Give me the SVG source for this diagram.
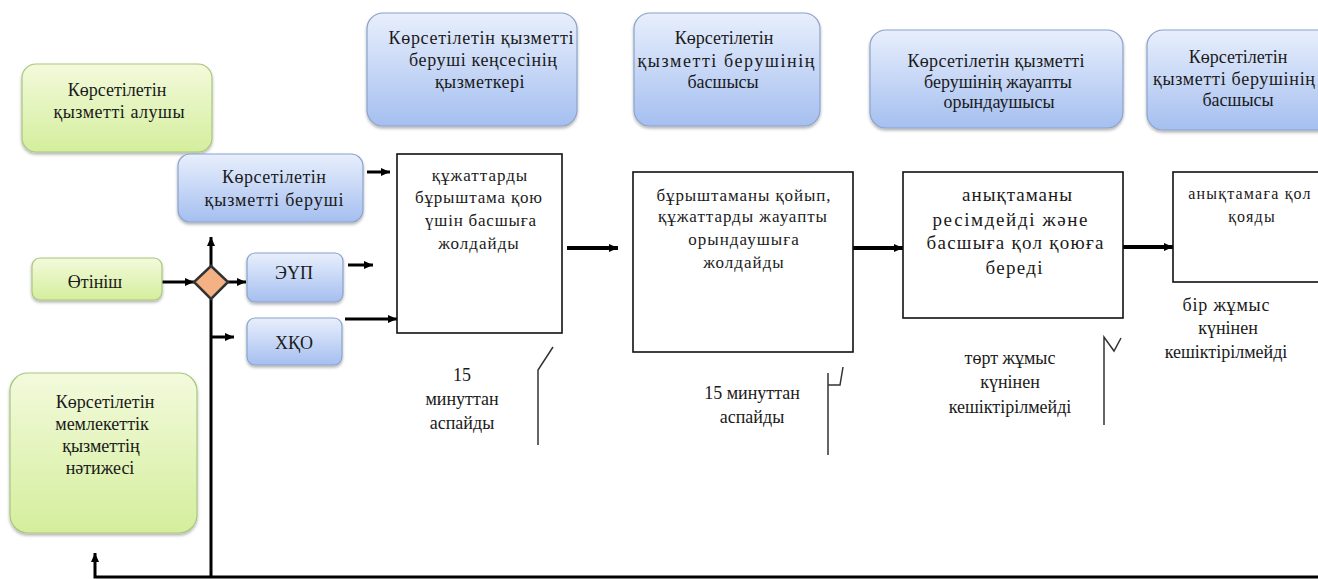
<svg xmlns="http://www.w3.org/2000/svg" width="1318" height="579" viewBox="0 0 1318 579" font-family="Liberation Serif, serif">
<defs>
<linearGradient id="gb" x1="0" y1="0" x2="0" y2="1">
<stop offset="0" stop-color="#e8effc"/>
<stop offset="1" stop-color="#a5bff0"/>
</linearGradient>
<linearGradient id="gg" x1="0" y1="0" x2="0" y2="1">
<stop offset="0" stop-color="#f3fadc"/>
<stop offset="1" stop-color="#d4ee9c"/>
</linearGradient>
<filter id="sh" x="-10%" y="-10%" width="120%" height="130%">
<feDropShadow dx="0" dy="2" stdDeviation="1.5" flood-color="#000" flood-opacity="0.3"/>
</filter>
<marker id="ah" markerUnits="userSpaceOnUse" markerWidth="10" markerHeight="10" refX="9" refY="5" orient="auto">
<path d="M0,1 L9,5 L0,9 z" fill="#000"/>
</marker>
</defs>
<style>
text{font-family:"Liberation Serif",serif}
.t{font-size:18px;fill:#1a1a1a;text-anchor:middle}
.w{letter-spacing:0.5px}
.s{font-size:17px;letter-spacing:1px}
.blue{fill:url(#gb);stroke:#8aa2cc;stroke-width:1.2;filter:url(#sh)}
.green{fill:url(#gg);stroke:#a8c67e;stroke-width:1.2;filter:url(#sh)}
.box{fill:#fff;stroke:#111;stroke-width:1.6}
.c{stroke:#000;stroke-width:3;fill:none}
.cw{stroke:#000;stroke-width:4;fill:none}
.thin{stroke:#333;stroke-width:1.5;fill:none}
</style>
<rect width="1318" height="579" fill="#fff"/>

<g id="connectors">
<path class="c" d="M367,172 H390" marker-end="url(#ah)"/>
<path class="c" d="M162,282 H194" marker-end="url(#ah)"/>
<path class="c" d="M228,282 H246" marker-end="url(#ah)"/>
<path class="c" d="M211,266 V237" marker-end="url(#ah)"/>
<path class="c" d="M348,265 H373" marker-end="url(#ah)"/>
<path class="c" d="M345,319 H397" marker-end="url(#ah)"/>
<path class="c" d="M211,299 V577"/>
<path class="c" d="M211,337 H234" marker-end="url(#ah)"/>
<path class="c" d="M1318,577 H95 V553" marker-end="url(#ah)"/>
<path class="cw" d="M567,248 H618" marker-end="url(#ah)"/>
<path class="cw" d="M853,248 H903" marker-end="url(#ah)"/>
<path class="cw" d="M1123,247 H1173" marker-end="url(#ah)"/>
</g>

<g id="recipient">
<rect class="green" x="22" y="64" width="190" height="88" rx="14"/>
<text class="t" x="117" y="96">Көрсетілетін</text>
<text class="t" x="119" y="118" textLength="131" lengthAdjust="spacing">қызметті алушы</text>
</g>
<g id="provider">
<rect class="blue" x="178" y="154" width="185" height="68" rx="12"/>
<text class="t" x="274" y="183" textLength="104" lengthAdjust="spacing">Көрсетілетін</text>
<text class="t" x="274" y="206" textLength="139" lengthAdjust="spacing">қызметті беруші</text>
</g>
<g id="office">
<rect class="blue" x="367" y="13" width="210" height="113" rx="16"/>
<text class="t" x="481" y="44" textLength="185" lengthAdjust="spacing">Көрсетілетін қызметті</text>
<text class="t" x="483" y="66" textLength="148" lengthAdjust="spacing">беруші кеңсесінің</text>
<text class="t w" x="480" y="88">қызметкері</text>
</g>
<g id="head1">
<rect class="blue" x="634" y="13" width="186" height="113" rx="16"/>
<text class="t" x="724" y="44">Көрсетілетін</text>
<text class="t" x="726" y="67" textLength="177" lengthAdjust="spacing">қызметті берушінің</text>
<text class="t" x="723" y="88">басшысы</text>
</g>
<g id="executor">
<rect class="blue" x="870" y="30" width="253" height="98" rx="16"/>
<text class="t" x="996" y="67" textLength="177" lengthAdjust="spacing">Көрсетілетін қызметті</text>
<text class="t" x="998" y="88">берушінің жауапты</text>
<text class="t" x="999" y="108">орындаушысы</text>
</g>
<g id="head2">
<rect class="blue" x="1147" y="30" width="190" height="100" rx="16"/>
<text class="t" x="1238" y="63">Көрсетілетін</text>
<text class="t" x="1234" y="85" textLength="162" lengthAdjust="spacing">қызметті берушінің</text>
<text class="t" x="1238" y="106">басшысы</text>
</g>
<g id="application">
<rect class="green" x="32" y="258" width="130" height="42" rx="8"/>
<text class="t" x="95" y="288">Өтініш</text>
</g>
<g id="decision">
<polygon points="211,266 228,282 211,299 194,282" fill="#f4b183" stroke="#333" stroke-width="2.5"/>
</g>
<g id="eup">
<rect class="blue" x="247" y="253" width="96" height="49" rx="8"/>
<text class="t" x="294" y="279">ЭҮП</text>
</g>
<g id="hqo">
<rect class="blue" x="247" y="318" width="95" height="47" rx="8"/>
<text class="t" x="294" y="349">ХҚО</text>
</g>
<g id="result">
<rect class="green" x="10" y="373" width="187" height="160" rx="18"/>
<text class="t"><tspan x="105" y="408">Көрсетілетін</tspan><tspan x="102" y="430">мемлекеттік</tspan><tspan x="101" y="452">қызметтің</tspan><tspan x="100" y="474">нәтижесі</tspan></text>
</g>
<g id="step1">
<rect class="box" x="397" y="154" width="165" height="179"/>
<text class="t s" x="480" y="181">құжаттарды</text>
<text class="t s" x="479" y="203" textLength="128" lengthAdjust="spacing">бұрыштама қою</text>
<text class="t s" x="481" y="226" textLength="112" lengthAdjust="spacing">үшін басшыға</text>
<text class="t s" x="479" y="249">жолдайды</text>
</g>
<g id="step2">
<rect class="box" x="633" y="172" width="220" height="180"/>
<text class="t s" x="744" y="201" textLength="175" lengthAdjust="spacing">бұрыштаманы қойып,</text>
<text class="t s" x="743" y="222" textLength="170" lengthAdjust="spacing">құжаттарды жауапты</text>
<text class="t s" x="744" y="245">орындаушыға</text>
<text class="t s" x="744" y="268">жолдайды</text>
</g>
<g id="step3">
<rect class="box" x="903" y="172" width="220" height="146"/>
<text class="t" style="font-size:19px" x="1017" y="201" textLength="110" lengthAdjust="spacing">анықтаманы</text>
<text class="t" style="font-size:19px" x="1010" y="226" textLength="155" lengthAdjust="spacing">ресімдейді және</text>
<text class="t" style="font-size:19px" x="1015" y="249" textLength="177" lengthAdjust="spacing">басшыға қол қоюға</text>
<text class="t" style="font-size:19px" x="1014" y="274" textLength="57" lengthAdjust="spacing">береді</text>
</g>
<g id="step4">
<rect class="box" x="1173" y="172" width="170" height="110"/>
<text class="t" style="font-size:16px;letter-spacing:1.2px"><tspan x="1250" y="199">анықтамаға қол</tspan><tspan x="1252" y="222">қояды</tspan></text>
</g>

<g id="label1">
<text class="t"><tspan x="462" y="381">15</tspan><tspan x="462" y="405">минуттан</tspan><tspan x="462" y="429">аспайды</tspan></text>
<path class="thin" d="M553,347 L538,370 V445"/>
</g>
<g id="label2">
<text class="t"><tspan x="752" y="399">15 минуттан</tspan><tspan x="752" y="423">аспайды</tspan></text>
<path class="thin" d="M828,373 V455 M828,385 H840 L843,367"/>
</g>
<g id="label3">
<text class="t"><tspan x="1010" y="364">төрт жұмыс</tspan><tspan x="1010" y="388">күнінен</tspan><tspan x="1010" y="413">кешіктірілмейді</tspan></text>
<path class="thin" d="M1104,425 V337 L1114,351 L1121,338"/>
</g>
<g id="label4">
<text class="t" x="1226" y="311" textLength="87" lengthAdjust="spacing">бір жұмыс</text>
<text class="t" x="1228" y="334">күнінен</text>
<text class="t" x="1226" y="358">кешіктірілмейді</text>
</g>
</svg>
